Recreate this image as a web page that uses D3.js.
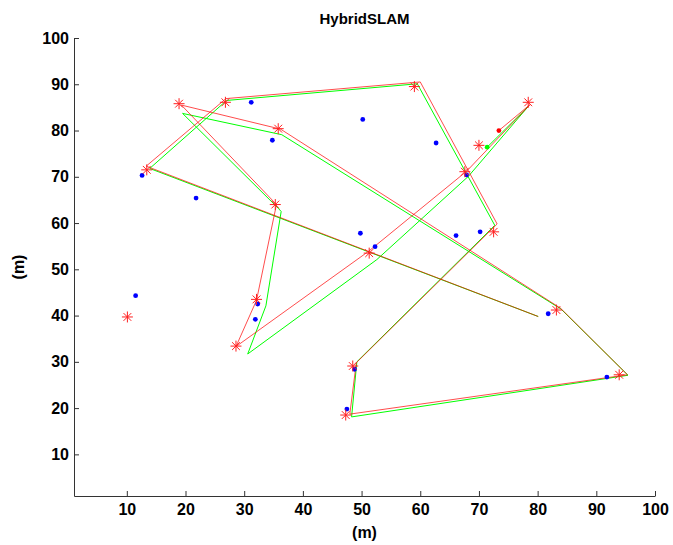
<!DOCTYPE html>
<html>
<head>
<meta charset="utf-8">
<script src="https://cdn.jsdelivr.net/npm/d3@7"></script>
<style>
  body { margin: 0; background: #fff; }
  text { font-family: "Liberation Sans", Arial, sans-serif; font-weight: bold; }
</style>
</head>
<body>
<div id="container"></div>
<script>
// Chart size and plot box
const width = 673;
const height = 545;
const marginTop = 38;
const marginRight = 18;
const marginBottom = 49;
const marginLeft = 74;

// Tick values
const xTicks = [10, 20, 30, 40, 50, 60, 70, 80, 90, 100];
const yTicks = [10, 20, 30, 40, 50, 60, 70, 80, 90, 100];

// True landmark positions (blue dots)
const landmarks = [
	[31.2, 86.1], [50.2, 82.4], [34.8, 77.9], [62.7, 77.3], [67.9, 70.4],
	[12.6, 70.3], [21.8, 65.4], [49.8, 57.8], [52.3, 54.9], [66.1, 57.3],
	[70.2, 58.1], [11.5, 44.3], [32.3, 42.5], [31.9, 39.2], [81.8, 40.4],
	[48.8, 28.4], [47.5, 19.8], [91.8, 26.7]
];

// Estimated landmark positions (red stars)
const estimates = [
	[18.9, 85.8], [26.8, 86.1], [35.8, 80.4], [59.0, 89.5], [78.4, 86.1],
	[70.0, 76.8], [67.6, 71.1], [13.4, 71.5], [35.3, 64.0], [72.5, 58.1],
	[51.3, 53.5], [32.1, 43.5], [10.1, 39.7], [28.6, 33.4], [83.2, 41.2],
	[48.5, 29.1], [47.3, 18.5], [93.9, 27.2]
];

// True robot path (red)
const truePath = [
	[80.1, 39.8], [13.3, 72.3], [26.9, 86.9], [60.0, 90.5], [73.1, 59.8],
	[49.1, 29.8], [48.0, 18.7], [95.3, 27.2], [83.9, 41.6], [36.2, 80.3],
	[19.3, 85.5], [35.5, 64.0], [32.1, 43.3], [28.6, 33.3], [51.2, 53.9],
	[67.9, 71.2], [78.7, 85.6], [73.4, 80.0]
];

// Estimated robot path (green)
const estPath = [
	[80.1, 39.8], [13.9, 71.8], [27.0, 86.5], [59.5, 90.1], [72.7, 59.5],
	[49.2, 30.0], [48.3, 18.1], [95.4, 27.1], [84.0, 41.4], [36.4, 79.1],
	[19.5, 83.7], [35.8, 63.2], [36.3, 62.5], [33.7, 42.1], [30.6, 31.7],
	[52.6, 52.1], [68.2, 70.1], [78.4, 85.2], [71.4, 76.4]
];

// Current robot positions
const trueRobot = [[73.4, 80.0]];
const estRobot = [[71.4, 76.4]];

const x = d3.scaleLinear()
	.domain([1, 100])
	.range([marginLeft, width - marginRight]);

const y = d3.scaleLinear()
	.domain([1, 100])
	.range([height - marginBottom, marginTop]);

const svg = d3.select("#container").append("svg")
	.attr("width", width)
	.attr("height", height)
	.style("display", "block");

// Axes, ticks pointing inward like the original
const xAxis = svg.append("g")
	.attr("transform", `translate(0,${height - marginBottom})`)
	.call(d3.axisBottom(x).tickValues(xTicks).tickSizeInner(-5).tickSizeOuter(0).tickPadding(8));

const yAxis = svg.append("g")
	.attr("transform", `translate(${marginLeft},0)`)
	.call(d3.axisLeft(y).tickValues(yTicks).tickSizeInner(-5).tickSizeOuter(0).tickPadding(5));

[xAxis, yAxis].forEach(g => {
	g.select(".domain").attr("stroke", "#333");
	g.selectAll(".tick line").attr("stroke", "#333");
	g.selectAll(".tick text")
		.attr("fill", "#000")
		.style("font-size", "16px")
		.style("font-weight", "bold");
});

// Title and axis labels
svg.append("text")
	.attr("x", (marginLeft + width - marginRight) / 2)
	.attr("y", 24)
	.attr("text-anchor", "middle")
	.style("font-size", "15px")
	.text("HybridSLAM");

svg.append("text")
	.attr("x", (marginLeft + width - marginRight) / 2)
	.attr("y", 538)
	.attr("text-anchor", "middle")
	.style("font-size", "16px")
	.text("(m)");

svg.append("text")
	.attr("transform", `translate(24,${(marginTop + height - marginBottom) / 2}) rotate(-90)`)
	.attr("text-anchor", "middle")
	.style("font-size", "16px")
	.text("(m)");

const line = d3.line()
	.x(d => x(d[0]))
	.y(d => y(d[1]));

// Paths: green underneath, red on top so shared stretches blend to brown
svg.append("path")
	.datum(estPath)
	.attr("fill", "none")
	.attr("stroke", "#00ff00")
	.attr("stroke-width", 1)
	.attr("d", line);

svg.append("path")
	.datum(truePath)
	.attr("fill", "none")
	.attr("stroke", "#ff0000")
	.attr("stroke-width", 1)
	.attr("stroke-opacity", 0.7)
	.attr("d", line);

// Landmarks
svg.selectAll(".landmark")
	.data(landmarks)
	.join("circle")
		.attr("class", "landmark")
		.attr("cx", d => x(d[0]))
		.attr("cy", d => y(d[1]))
		.attr("r", 2.4)
		.attr("fill", "#0000ff");

// Asterisk marker (+ and x)
const r = 5.5, a = r * Math.SQRT1_2;
const star = `M${-r},0L${r},0M0,${-r}L0,${r}M${-a},${-a}L${a},${a}M${-a},${a}L${a},${-a}`;

svg.selectAll(".estimate")
	.data(estimates)
	.join("path")
		.attr("class", "estimate")
		.attr("transform", d => `translate(${x(d[0])},${y(d[1])})`)
		.attr("d", star)
		.attr("fill", "none")
		.attr("stroke", "#ff2020")
		.attr("stroke-width", 1);

// Robot positions
svg.selectAll(".truerobot")
	.data(trueRobot)
	.join("circle")
		.attr("class", "truerobot")
		.attr("cx", d => x(d[0]))
		.attr("cy", d => y(d[1]))
		.attr("r", 2.4)
		.attr("fill", "#ff0000");

svg.selectAll(".estrobot")
	.data(estRobot)
	.join("circle")
		.attr("class", "estrobot")
		.attr("cx", d => x(d[0]))
		.attr("cy", d => y(d[1]))
		.attr("r", 2.4)
		.attr("fill", "#00ff00");
</script>
</body>
</html>
